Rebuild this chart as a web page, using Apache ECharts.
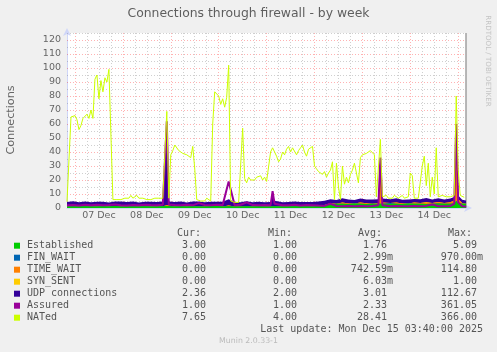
<!DOCTYPE html>
<html><head><meta charset="utf-8">
<script src="https://cdn.jsdelivr.net/npm/echarts@6/dist/echarts.min.js"></script>
<style>html,body{margin:0;padding:0;background:#f0f0f0;}#c{width:497px;height:352px;}</style>
</head><body><div id="c"></div>
<script>
// ---------- data ----------
const chartTitle = 'Connections through firewall - by week';
const seriesNames = ['Established', 'FIN_WAIT', 'TIME_WAIT', 'SYN_SENT', 'UDP connections', 'Assured', 'NATed'];
const seriesColors = ['#00CC00', '#0066B3', '#FF8000', '#FFCC00', '#330099', '#990099', '#CCFF00'];
const dayLabels = ['07 Dec', '08 Dec', '09 Dec', '10 Dec', '11 Dec', '12 Dec', '13 Dec', '14 Dec'];

// hours relative to 07 Dec 00:00 (shared grid of the stacked areas and the Assured line)
const bandHours = [
  -4, -1, 2, 5, 8, 11, 14, 17, 20, 23,
  26, 29, 32, 35, 38, 41, 44, 45, 46, 47,
  50, 53, 56, 59, 62, 65, 68, 71, 74, 77,
  80, 83, 86, 89, 92, 95, 98, 99, 100, 101,
  104, 107, 110, 113, 116, 119, 122, 125, 128, 131,
  134, 137, 140, 143, 146, 149, 152, 153, 154, 155,
  158, 161, 164, 167, 170, 173, 176, 179, 182, 185,
  188, 190, 191, 192, 194, 196
];
const establishedVals = [
  1, 1.2, 1, 1.3, 1.1, 1, 1.2, 1, 1.4, 1,
  1.1, 1.3, 1, 1.2, 1, 1.1, 1.3, 1.2, 1.5, 1.1,
  1, 1.2, 1, 1.3, 1.1, 1, 1.2, 1.4, 1, 1.2,
  1, 1.1, 1.3, 1, 1.2, 1.1, 1, 1.3, 1.2, 1.4,
  1.1, 1, 1.2, 1.1, 1.3, 1, 1.5, 2.2, 2.9, 3.1,
  3, 2.8, 3.2, 3, 2.9, 3.1, 3, 3.4, 3, 2.9,
  3.1, 3, 2.8, 3.2, 3, 3.1, 2.9, 3, 3.2, 3,
  3.1, 3.3, 5, 3.4, 3, 3
];
const finWaitVals = [
  0, 0, 0, 0, 0, 0, 0, 0, 0, 0,
  0, 0, 0, 0, 0, 0, 0, 0, 0, 0,
  0, 0, 0, 0, 0, 0, 0, 0, 0, 0,
  0, 0, 0, 0, 0, 0, 0, 0, 0, 0,
  0, 0, 0, 0, 0, 0, 0, 0, 0, 0,
  0, 0, 0, 0, 0, 0, 0, 0, 0, 0,
  0.5, 0, 0, 0, 0, 0, 0, 0, 0, 0,
  0, 0, 0, 0, 0, 0
];
const timeWaitVals = [
  0, 0, 0, 0, 0, 0, 0, 0, 0, 0,
  0, 0, 0, 0, 0, 0, 0, 0, 0.5, 0,
  0, 0, 0, 0, 0, 0, 0, 0, 0, 0.5,
  0, 0, 0, 0, 0, 0, 0, 0, 0, 0,
  0, 0, 0, 0, 0, 0, 0, 0, 0.5, 0,
  1, 0.5, 0, 1, 0.5, 0, 0.5, 25, 1, 0.5,
  0, 1, 0.5, 0, 1, 0.5, 1, 0.5, 1, 0.5,
  1, 2, 55, 3, 0.5, 0
];
const synSentVals = [
  0, 0, 0, 0, 0, 0, 0, 0, 0, 0,
  0, 0, 0, 0, 0, 0, 0, 0, 0, 0,
  0, 0, 0, 0, 0, 0, 0, 0, 0, 0,
  0, 0, 0, 0, 0, 0, 0, 0, 0, 0,
  0, 0, 0, 0, 0, 0, 0, 0, 0, 0,
  0, 0, 0, 0, 0, 0, 0, 0, 0, 0,
  0, 0, 0, 0, 0, 0, 0.4, 0, 0, 0,
  0, 0, 0, 0, 0, 0
];
const udpVals = [
  3.2, 3.6, 3.1, 3.4, 3.0, 3.5, 3.2, 3.0, 3.3, 3.6,
  3.1, 3.4, 3.0, 3.2, 3.5, 3.1, 3.3, 4, 58, 3.6,
  3.2, 3.4, 3.0, 3.3, 3.6, 3.1, 3.2, 3.0, 3.4, 4.5,
  3.2, 3.0, 3.5, 3.1, 3.3, 3.0, 3.2, 10, 4, 3.3,
  3.0, 3.2, 3.4, 3.1, 3.0, 3.3, 3.1, 3.0, 2.8, 2.6,
  2.9, 2.7, 2.5, 2.8, 2.6, 2.9, 2.7, 3.5, 2.8, 2.6,
  2.7, 2.9, 2.6, 2.8, 2.5, 2.7, 2.9, 2.6, 2.8, 2.5,
  2.7, 2.6, 3, 2.6, 2.4, 2.36
];
const assuredVals = [
  2, 2.2, 1.8, 2.4, 2, 2.3, 1.9, 2.1, 2.5, 2,
  1.8, 2.2, 2, 2.4, 2.1, 1.9, 2.3, 3, 62, 2.5,
  2.2, 2, 2.4, 1.9, 3.5, 2.2, 2, 2.4, 2.1, 19,
  2, 2.3, 4, 2.1, 1.9, 2.2, 2, 12, 3, 2.2,
  1.9, 2, 2.3, 1.8, 2.1, 2, 1.7, 1.5, 3, 1.4,
  1.3, 1.5, 1.2, 1.4, 1.3, 1.5, 2, 36, 2, 1.4,
  1.2, 1.5, 1.3, 1.2, 1.4, 1.3, 1.5, 2.5, 1.3, 1.2,
  1.5, 3, 60, 4, 1.2, 1
];
// NATed: hourly samples starting at hour -4
const natedStartHour = -4;
const natedVals = [
  4.5, 5, 65, 64, 66, 63, 56, 59, 64, 63,
  67, 64, 70, 64, 92, 95, 78, 91, 83, 93,
  90, 99, 100, 6, 5, 6, 5, 6, 6, 7,
  6, 7, 9, 7, 7, 9, 7, 6, 7, 7,
  6, 7, 6, 7, 7, 6, 7, 6, 7, 7,
  69, 7, 38, 41, 45, 46, 41, 40, 39, 40,
  38, 37, 36, 44, 28, 6, 5, 5, 6, 5,
  7, 8, 5, 60, 83, 84, 80, 74, 78, 72,
  79, 102, 5, 4, 4, 5, 4, 5, 57, 21,
  18, 22, 20, 21, 20, 22, 21, 23, 20, 22,
  19, 19, 40, 43, 40, 37, 33, 35, 40, 38,
  42, 44, 40, 43, 44, 38, 41, 43, 45, 40,
  37, 42, 43, 44, 30, 28, 26, 27, 24, 26,
  22, 25, 27, 33, 6, 32, 15, 6, 30, 17,
  22, 18, 24, 27, 32, 33, 18, 36, 38, 39,
  39, 40, 41, 41, 38, 8, 7, 49, 8, 7,
  9, 7, 8, 7, 9, 8, 7, 8, 9, 7,
  8, 8, 25, 23, 7, 8, 7, 8, 30, 37,
  16, 32, 8, 22, 10, 43, 8, 8, 9, 8,
  8, 9, 8, 9, 9, 80, 27, 9, 8, 7.65
];
const statHeaders = ['Cur:', 'Min:', 'Avg:', 'Max:'];
const curVals = [3.00, 0, 0, 0, 2.36, 1.00, 7.65];
const minVals = [1.00, 0, 0, 0, 2.00, 1.00, 4.00];
const avgVals = [1.76, 0.00299, 0.74259, 0.00603, 3.01, 2.33, 28.41];
const maxVals = [5.09, 0.97, 114.80, 1.00, 112.67, 361.05, 366.00];
const lastUpdateText = 'Last update: Mon Dec 15 03:40:00 2025';
const watermarkText = 'Munin 2.0.33-1';
const sideText = 'RRDTOOL / TOBI OETIKER';
const yAxisTitle = 'Connections';

// ---------- chart ----------
const FONT = '"DejaVu Sans"';
const MONO = '"DejaVu Sans Mono"';
const TXT = '#555';
const X_MIN = -4, X_MAX = 195.9;

function fmt(v) {
  if (v === 0) return '0.00 ';
  if (Math.abs(v) < 1) return (v * 1000).toFixed(2) + 'm';
  return v.toFixed(2) + ' ';
}

const RED = 'rgba(255,0,0,0.3)';
const GRAY = 'rgba(130,130,130,0.38)';
const gridLines = [];
for (let h = 0; h <= 192; h += 6) {
  gridLines.push({xAxis: h, lineStyle: {color: h % 24 === 0 ? RED : GRAY, type: [1, 2], width: 1}});
}
for (let v = 5; v <= 125; v += 5) {
  gridLines.push({yAxis: v, lineStyle: {color: v % 10 === 0 ? RED : GRAY, type: [1, 2], width: 1}});
}
gridLines.push({xAxis: X_MAX, lineStyle: {color: '#a0a0a0', type: 'solid', width: 1.5}});

// stacking (rrdtool AREA + STACK): cumulative sums, drawn top layer first
const bandSets = [establishedVals, finWaitVals, timeWaitVals, synSentVals, udpVals];
const cumulative = [];
bandSets.forEach((vals, k) => {
  cumulative.push(vals.map((v, i) => v + (k > 0 ? cumulative[k - 1][i] : 0)));
});

const series = [];
series.push({
  name: 'gridlines', type: 'line', data: [], z: 1, silent: true, animation: false,
  markLine: {silent: true, z: 1, animation: false, symbol: ['none', 'none'], label: {show: false},
    emphasis: {disabled: true}, data: gridLines}
});
for (let k = bandSets.length - 1; k >= 0; k--) {
  series.push({
    name: seriesNames[k], type: 'line', z: 2,
    showSymbol: false, symbol: 'none', animation: false,
    itemStyle: {color: seriesColors[k]},
    lineStyle: {width: 0, color: seriesColors[k]},
    areaStyle: {color: seriesColors[k], opacity: 1, origin: 'start'},
    data: bandHours.map((h, i) => [h, cumulative[k][i]])
  });
}
series.push({
  name: seriesNames[5], type: 'line', z: 3, showSymbol: false, symbol: 'none', animation: false,
  itemStyle: {color: seriesColors[5]}, lineStyle: {width: 2, color: seriesColors[5]},
  data: bandHours.map((h, i) => [h, assuredVals[i]])
});
series.push({
  name: seriesNames[6], type: 'line', z: 4, showSymbol: false, symbol: 'none', animation: false,
  itemStyle: {color: seriesColors[6]}, lineStyle: {width: 1, color: seriesColors[6]},
  data: natedVals.map((v, i) => [natedStartHour + i, v])
});

const graphics = [];
const colRight = [212, 303, 393, 483];
const headerLeft = [177, 268, 358, 448];
statHeaders.forEach((t, c) => {
  graphics.push({type: 'text', x: headerLeft[c], y: 233.5, silent: true,
    style: {text: t, font: '10px ' + MONO, fill: TXT, align: 'left', verticalAlign: 'middle'}});
});
const cols = [curVals, minVals, avgVals, maxVals];
seriesNames.forEach((n, r) => {
  cols.forEach((arr, c) => {
    graphics.push({type: 'text', x: colRight[c], y: 245.7 + 12 * r, silent: true,
      style: {text: fmt(arr[r]), font: '10px ' + MONO, fill: TXT, align: 'right', verticalAlign: 'middle'}});
  });
});
graphics.push({type: 'text', x: 483, y: 329.5, silent: true,
  style: {text: lastUpdateText, font: '10px ' + MONO, fill: TXT, align: 'right', verticalAlign: 'middle'}});
graphics.push({type: 'text', x: 248.5, y: 341, silent: true,
  style: {text: watermarkText, font: '7.8px ' + FONT, fill: '#bbbbbb', align: 'center', verticalAlign: 'middle'}});
graphics.push({type: 'text', x: 11, y: 120, rotation: Math.PI / 2, silent: true,
  style: {text: yAxisTitle, font: '11.2px ' + FONT, fill: '#666', align: 'center', verticalAlign: 'middle'}});
graphics.push({type: 'text', x: 488, y: 61, rotation: -Math.PI / 2, silent: true,
  style: {text: sideText, font: '7.1px ' + FONT, fill: '#c4c4c4', align: 'center', verticalAlign: 'middle'}});

const chart = echarts.init(document.getElementById('c'), null, {renderer: 'canvas', width: 497, height: 352});
chart.setOption({
  backgroundColor: '#f0f0f0',
  animation: false,
  title: {text: chartTitle, left: 'center', top: 5.5, padding: 0,
    textStyle: {fontFamily: 'DejaVu Sans', fontSize: 12.4, fontWeight: 'normal', color: '#5e5e5e', lineHeight: 16}},
  grid: {left: 67, top: 33, right: 31, bottom: 144, show: true, backgroundColor: '#ffffff', borderWidth: 0, containLabel: false},
  legend: {
    data: seriesNames, orient: 'vertical', left: 14, top: 239.7, padding: 0, itemGap: 0,
    itemWidth: 6, itemHeight: 6, icon: 'rect', selectedMode: false,
    textStyle: {fontFamily: 'DejaVu Sans Mono', fontSize: 10, color: TXT, lineHeight: 12, padding: [0, 0, 0, 2]}
  },
  xAxis: {
    type: 'value', min: X_MIN, max: X_MAX,
    axisLine: {show: true, onZero: false, lineStyle: {color: '#CFD6F8', width: 1},
      symbol: ['none', 'arrow'], symbolSize: [6, 8], symbolOffset: [0, 6]},
    axisTick: {show: false}, splitLine: {show: false},
    axisLabel: {
      customValues: dayLabels.map((d, i) => 12 + 24 * i),
      formatter: v => dayLabels[Math.round((v - 12) / 24)] || '',
      fontFamily: 'DejaVu Sans', fontSize: 9.5, color: '#666', margin: 3
    }
  },
  yAxis: {
    type: 'value', min: 0, max: 125, interval: 10,
    axisLine: {show: true, onZero: false, lineStyle: {color: '#CFD6F8', width: 1},
      symbol: ['none', 'arrow'], symbolSize: [6, 8], symbolOffset: [0, 5]},
    axisTick: {show: false}, splitLine: {show: false},
    axisLabel: {formatter: v => (v % 10 === 0 ? String(v) : ''),
      fontFamily: 'DejaVu Sans', fontSize: 9.5, color: '#666', margin: 6}
  },
  series: series,
  graphic: graphics
});
</script>
</body></html>
